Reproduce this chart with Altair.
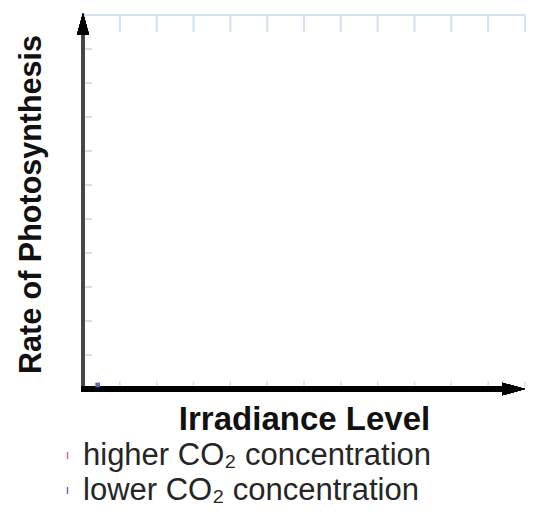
import altair as alt
import pandas as pd

# --- data -------------------------------------------------------------
series_names = ["higher CO\u2082 concentration", "lower CO\u2082 concentration"]
series_colors = ["#e0607a", "#5a68c4"]

pt_irradiance = [0.4]
pt_rate = [0.12]
pt_series = ["lower CO\u2082 concentration"]

x_ticks = list(range(1, 13))   # irradiance gridline positions
y_ticks = list(range(1, 11))   # rate gridline positions

X_MAX = 12
Y_MAX = 11
W, H = 442, 374
GRID = "#d5e0f1"

pts = pd.DataFrame({"Irradiance": pt_irradiance, "Rate": pt_rate, "Series": pt_series})
xt = pd.DataFrame({"Irradiance": x_ticks})
yt = pd.DataFrame({"Rate": y_ticks})

xscale = alt.Scale(domain=[0, X_MAX], nice=False, zero=True)
yscale = alt.Scale(domain=[0, Y_MAX], nice=False, zero=True)

xaxis = alt.Axis(title="Irradiance Level", labels=False, ticks=False, domain=False, grid=False,
                 titleFont="Liberation Sans", titleFontSize=33, titleFontWeight="bold",
                 titleColor="#111111", titleX=W / 2, titleY=40, titleAlign="center",
                 titleBaseline="alphabetic")
yaxis = alt.Axis(title="Rate of Photosynthesis", labels=False, ticks=False, domain=False, grid=False,
                 titleFont="Liberation Sans", titleFontSize=30.5, titleFontWeight="bold",
                 titleColor="#111111", titleX=-43, titleY=189, titleAngle=270,
                 titleAlign="center", titleBaseline="alphabetic")

def X(**kw):
    return alt.X("Irradiance:Q", scale=xscale, axis=xaxis, **kw)

def Y(**kw):
    return alt.Y("Rate:Q", scale=yscale, axis=yaxis, **kw)

# top border
top_border = alt.Chart(xt).mark_rule(color=GRID, strokeWidth=2).encode(
    x=alt.value(0), x2=alt.value(W), y=alt.value(0))
top_ticks = alt.Chart(xt).mark_rule(color=GRID, strokeWidth=2).encode(
    x=X(), y=alt.value(0), y2=alt.value(17))
bottom_ticks = alt.Chart(xt).mark_rule(color=GRID, strokeWidth=1.5).encode(
    x=X(), y=alt.value(H - 8), y2=alt.value(H - 2))
left_ticks = alt.Chart(yt).mark_rule(color=GRID, strokeWidth=2).encode(
    y=Y(), x=alt.value(0), x2=alt.value(9))

# axes with arrows
y_line = alt.Chart(yt).mark_rule(color="#444444", strokeWidth=2.6).encode(
    x=alt.value(0), y=alt.value(14), y2=alt.value(H + 2))
x_line = alt.Chart(xt).mark_rule(color="#000000", strokeWidth=5.5).encode(
    x=alt.value(-1.5), x2=alt.value(W - 16), y=alt.value(H))
y_arrow = alt.Chart(yt).mark_point(shape="M0,-1L0.55,1L-0.55,1Z", filled=True, opacity=1,
                                   color="#000000", size=484).encode(
    x=alt.value(0), y=alt.value(9))
x_arrow = alt.Chart(xt).mark_point(shape="M1,0L-1,-0.55L-1,0.55Z", filled=True, opacity=1,
                                   color="#000000", size=529).encode(
    x=alt.value(W - 11.5), y=alt.value(H))

# data points
points = alt.Chart(pts).mark_point(shape="square", filled=True, opacity=1, size=22).encode(
    x=X(), y=Y(),
    color=alt.Color("Series:N",
                    scale=alt.Scale(domain=series_names, range=series_colors),
                    legend=alt.Legend(title=None, orient="none", legendX=-31, legendY=425,
                                      symbolType="M-0.2,-1L0.2,-1L0.2,1L-0.2,1Z",
                                      symbolSize=49, symbolOpacity=1, symbolStrokeWidth=0,
                                      labelFont="Liberation Sans", labelFontSize=31,
                                      labelColor="#262626", labelOffset=0, padding=0,
                                      rowPadding=3, labelLimit=500)),
)

chart = alt.layer(top_border, top_ticks, bottom_ticks, left_ticks,
                  y_line, x_line, y_arrow, x_arrow, points).properties(
    width=W, height=H,
    autosize=alt.AutoSizeParams(type="none"),
    padding={"left": 75, "top": 7, "right": 2, "bottom": 117},
).configure_view(stroke=None)

chart.save("out.html", embed_options={"renderer": "svg", "actions": False})
